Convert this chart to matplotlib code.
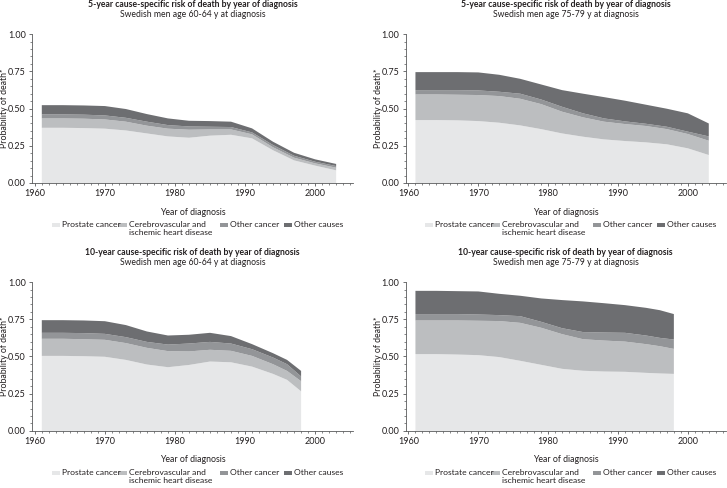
import matplotlib.pyplot as plt
from matplotlib.patches import Rectangle
from matplotlib.ticker import MultipleLocator

plt.rcParams['font.family'] = ['Lato', 'DejaVu Sans']

# 数据：各死因的风险（按诊断年份）
years_5 = [1961, 1964, 1967, 1970, 1973, 1976, 1979, 1982, 1985, 1988, 1991, 1994, 1997, 2000, 2003]
years_10 = [1961, 1964, 1967, 1970, 1973, 1976, 1979, 1982, 1985, 1988, 1991, 1994, 1996, 1998]

# 5年, 60-64岁
p5_young_prostate = [0.371, 0.371, 0.369, 0.365, 0.353, 0.333, 0.313, 0.304, 0.318, 0.324, 0.300, 0.220, 0.152, 0.117, 0.085]
p5_young_cardio = [0.063, 0.063, 0.063, 0.062, 0.059, 0.052, 0.052, 0.054, 0.042, 0.036, 0.027, 0.020, 0.018, 0.015, 0.018]
p5_young_othcancer = [0.027, 0.027, 0.027, 0.027, 0.026, 0.027, 0.024, 0.022, 0.018, 0.016, 0.013, 0.015, 0.013, 0.011, 0.011]
p5_young_othcause = [0.062, 0.062, 0.062, 0.063, 0.059, 0.051, 0.045, 0.038, 0.038, 0.036, 0.027, 0.022, 0.020, 0.016, 0.014]

# 5年, 75-79岁
p5_old_prostate = [0.423, 0.423, 0.421, 0.416, 0.405, 0.387, 0.362, 0.333, 0.311, 0.293, 0.282, 0.273, 0.260, 0.233, 0.188]
p5_old_cardio = [0.172, 0.172, 0.172, 0.175, 0.179, 0.179, 0.168, 0.146, 0.130, 0.119, 0.114, 0.110, 0.102, 0.096, 0.096]
p5_old_othcancer = [0.029, 0.029, 0.031, 0.031, 0.029, 0.034, 0.031, 0.033, 0.027, 0.022, 0.018, 0.015, 0.016, 0.016, 0.029]
p5_old_othcause = [0.121, 0.121, 0.121, 0.121, 0.114, 0.100, 0.101, 0.112, 0.132, 0.143, 0.139, 0.128, 0.121, 0.123, 0.087]

# 10年, 60-64岁
p10_young_prostate = [0.504, 0.504, 0.502, 0.498, 0.477, 0.446, 0.428, 0.443, 0.466, 0.461, 0.432, 0.383, 0.343, 0.266]
p10_young_cardio = [0.115, 0.115, 0.114, 0.114, 0.113, 0.112, 0.108, 0.091, 0.079, 0.077, 0.072, 0.065, 0.060, 0.068]
p10_young_othcancer = [0.040, 0.040, 0.041, 0.040, 0.040, 0.040, 0.044, 0.053, 0.053, 0.049, 0.045, 0.045, 0.045, 0.032]
p10_young_othcause = [0.085, 0.085, 0.085, 0.085, 0.081, 0.070, 0.061, 0.059, 0.061, 0.050, 0.034, 0.029, 0.029, 0.037]

# 10年, 75-79岁
p10_old_prostate = [0.516, 0.516, 0.513, 0.509, 0.496, 0.471, 0.444, 0.417, 0.404, 0.399, 0.397, 0.390, 0.386, 0.383]
p10_old_cardio = [0.226, 0.226, 0.229, 0.231, 0.242, 0.255, 0.249, 0.233, 0.212, 0.208, 0.203, 0.193, 0.183, 0.168]
p10_old_othcancer = [0.043, 0.043, 0.043, 0.042, 0.040, 0.045, 0.040, 0.040, 0.048, 0.054, 0.059, 0.058, 0.056, 0.063]
p10_old_othcause = [0.156, 0.156, 0.154, 0.155, 0.143, 0.137, 0.157, 0.189, 0.206, 0.197, 0.186, 0.186, 0.186, 0.171]

labels = ['Prostate cancer', 'Cerebrovascular and\nischemic heart disease', 'Other cancer', 'Other causes']
colors = ['#e6e7e8', '#bcbec0', '#939598', '#6d6e71']
yticks = [0.0, 0.25, 0.5, 0.75, 1.0]
ytick_labels = ['0.00', '0.25', '0.50', '0.75', '1.00']

panels = [
    ('5-year', '60-64', years_5, [p5_young_prostate, p5_young_cardio, p5_young_othcancer, p5_young_othcause]),
    ('5-year', '75-79', years_5, [p5_old_prostate, p5_old_cardio, p5_old_othcancer, p5_old_othcause]),
    ('10-year', '60-64', years_10, [p10_young_prostate, p10_young_cardio, p10_young_othcancer, p10_young_othcause]),
    ('10-year', '75-79', years_10, [p10_old_prostate, p10_old_cardio, p10_old_othcancer, p10_old_othcause]),
]
positions = [
    [0.044, 0.625, 0.4415, 0.305],
    [0.558, 0.625, 0.440, 0.305],
    [0.044, 0.117, 0.4415, 0.305],
    [0.558, 0.117, 0.440, 0.305],
]
# 图例各项的横向位置（坐标轴比例）
legend_x = [0.062, 0.270, 0.585, 0.785]

txt = '#231f20'
axc = '#58595b'

fig = plt.figure(figsize=(7.27, 4.88), dpi=100)

for (horizon, age, yrs, series), pos in zip(panels, positions):
    ax = fig.add_axes(pos)
    ax.stackplot(yrs, *series, colors=colors, linewidth=0)
    ax.set_xlim(1959.6, 2005.4)
    ax.set_ylim(0, 1.0)
    ax.set_xticks([1960, 1970, 1980, 1990, 2000])
    ax.xaxis.set_minor_locator(MultipleLocator(1))
    ax.set_yticks(yticks)
    ax.set_yticklabels(ytick_labels)
    ax.yaxis.set_minor_locator(MultipleLocator(0.05))
    for s in ['top', 'right']:
        ax.spines[s].set_visible(False)
    for s in ['left', 'bottom']:
        ax.spines[s].set_color(axc)
        ax.spines[s].set_linewidth(0.6)
    ax.tick_params(which='major', length=2.5, width=0.6, color=axc, labelsize=6.5, labelcolor=txt, pad=2)
    ax.tick_params(which='minor', length=1.5, width=0.5, color=axc)
    ax.set_xlabel('Year of diagnosis', fontsize=6.3, color=txt)
    ax.xaxis.set_label_coords(0.5, -0.165)
    ax.set_ylabel('Probability of death*', fontsize=6.3, color=txt)
    ax.yaxis.set_label_coords(-0.071, 0.5)
    ax.text(0.5, 1.2, f'{horizon} cause-specific risk of death by year of diagnosis',
            transform=ax.transAxes, ha='center', va='center', fontsize=6.2, fontweight='bold', color=txt)
    ax.text(0.5, 1.13, f'Swedish men age {age} y at diagnosis',
            transform=ax.transAxes, ha='center', va='center', fontsize=6.2, color=txt)

    # 图例
    for x0, lab, c in zip(legend_x, labels, colors):
        ax.add_patch(Rectangle((x0, -0.297), 0.025, 0.030, transform=ax.transAxes,
                               facecolor=c, edgecolor='none', clip_on=False))
        ax.text(x0 + 0.031, -0.257, lab, transform=ax.transAxes, ha='left', va='top',
                fontsize=6.1, color=txt, linespacing=1.2)

fig.savefig('out.png', dpi=100)
